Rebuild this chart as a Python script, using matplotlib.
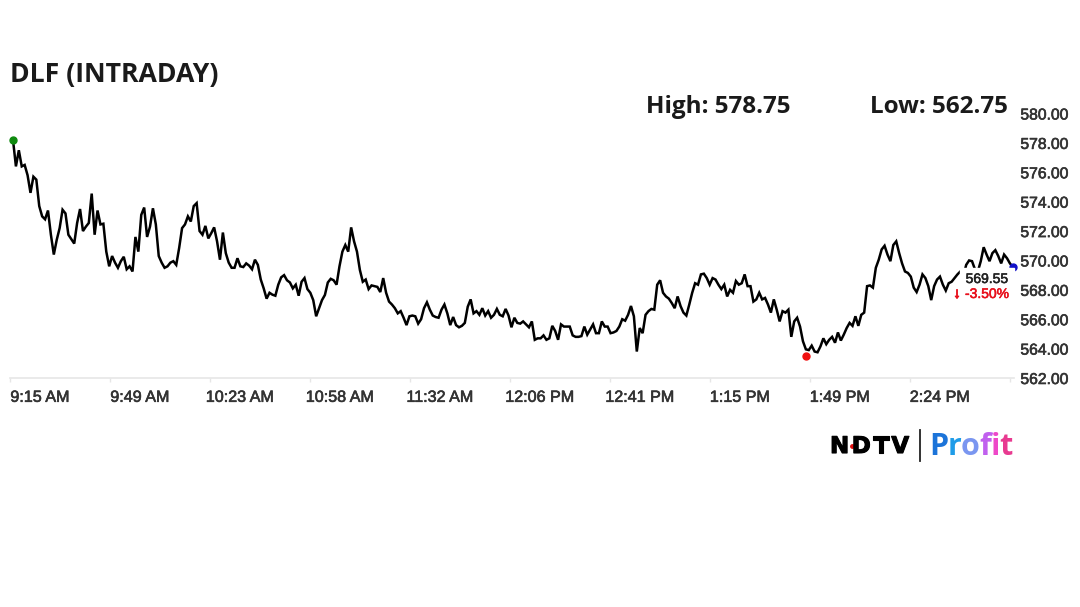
import matplotlib
matplotlib.use('Agg')
import matplotlib.pyplot as plt
import matplotlib.patheffects as pe
from matplotlib.patches import Rectangle
from matplotlib.transforms import ScaledTranslation
import numpy as np

# one close per minute
prices = [
    578.2, 576.4, 577.5, 576.4, 576.5, 575.8, 574.6, 575.7, 575.5, 573.7,
    573.0, 572.8, 573.4, 571.75, 570.4, 571.4, 572.2, 573.45, 573.2, 571.75,
    571.45, 571.15, 572.55, 573.5, 572.0, 572.3, 572.55, 574.55, 571.75, 573.4,
    572.45, 572.5, 570.6, 569.6, 570.3, 569.85, 569.5, 569.95, 570.25, 569.4,
    569.6, 569.25, 571.6, 570.6, 573.1, 573.6, 571.6, 572.3, 573.55, 572.45,
    570.3, 569.85, 569.5, 569.6, 569.85, 569.95, 569.7, 570.85, 572.2, 572.45,
    573.0, 572.65, 573.7, 573.9, 572.0, 571.75, 572.35, 571.5, 571.85, 572.25,
    571.3, 570.05, 571.9, 570.5, 569.85, 569.5, 569.5, 570.15, 569.6, 569.55,
    569.8, 569.65, 569.4, 570.05, 569.7, 568.7, 568.1, 567.4, 567.8, 567.67,
    567.6, 568.35, 568.85, 569.0, 568.65, 568.5, 568.1, 568.35, 567.6, 568.55,
    568.8, 568.05, 567.8, 567.3, 566.2, 566.75, 567.3, 567.65, 568.5, 568.75,
    568.65, 568.35, 569.6, 570.6, 571.05, 570.6, 572.25, 571.3, 570.6, 569.35,
    568.55, 568.7, 568.05, 568.3, 568.25, 568.2, 567.85, 568.8, 567.8, 567.2,
    567.0, 566.75, 566.4, 566.55, 566.1, 565.6, 566.2, 566.25, 566.2, 565.7,
    566.0, 566.75, 567.15, 566.65, 566.25, 566.15, 566.1, 566.65, 567.0, 566.4,
    565.6, 566.15, 565.6, 565.45, 565.55, 565.75, 566.85, 567.35, 566.4, 566.55,
    566.3, 566.75, 566.25, 566.55, 566.1, 566.3, 566.7, 566.3, 566.2, 566.7,
    566.25, 565.45, 566.1, 565.75, 565.7, 565.85, 565.65, 565.45, 565.85, 564.6,
    564.7, 564.7, 564.9, 564.6, 564.7, 565.55, 565.2, 564.6, 565.65, 565.5,
    565.5, 565.5, 564.9, 564.8, 564.8, 564.85, 565.5, 564.95, 565.3, 565.65,
    565.05, 565.05, 565.85, 565.5, 565.5, 565.05, 565.1, 565.2, 565.5, 566.0,
    565.9, 566.3, 566.9, 566.2, 563.8, 565.4, 565.05, 566.3, 566.55, 566.7,
    566.65, 568.35, 568.65, 567.8, 567.55, 567.4, 567.1, 566.75, 567.55, 566.9,
    566.45, 566.25, 567.0, 567.8, 568.45, 568.35, 569.05, 569.1, 568.8, 568.35,
    568.8, 568.7, 568.35, 568.05, 568.35, 567.55, 568.0, 567.8, 568.6, 568.35,
    568.45, 569.05, 568.25, 568.25, 567.2, 567.35, 567.8, 567.35, 567.45, 567.0,
    566.45, 567.35, 566.65, 565.85, 566.55, 566.45, 566.65, 564.8, 565.85, 566.1,
    565.5, 564.5, 563.95, 563.9, 564.2, 563.8, 563.75, 564.15, 564.7, 564.3,
    564.6, 564.8, 564.4, 565.1, 564.55, 564.95, 565.4, 565.75, 565.55, 566.2,
    565.55, 566.3, 566.45, 568.25, 568.3, 568.15, 569.5, 570.05, 570.75, 571.0,
    570.4, 569.95, 571.05, 571.3, 570.5, 569.8, 569.25, 569.15, 568.9, 568.15,
    567.85, 568.35, 569.05, 568.8, 568.25, 567.3, 568.25, 568.7, 568.9, 568.35,
    567.95, 568.45, 568.55, 568.8, 569.05, 569.25, 568.9, 569.7, 570.0, 569.95,
    569.4, 569.25, 569.95, 570.9, 570.4, 569.95, 570.5, 570.7, 570.3, 569.8,
    570.4, 570.15, 569.8, 569.55,
]
low_minute = 272
low_price = 563.5

time_labels = ['9:15 AM', '9:49 AM', '10:23 AM', '10:58 AM', '11:32 AM', '12:06 PM',
               '12:41 PM', '1:15 PM', '1:49 PM', '2:24 PM', '']
y_ticks = [562, 564, 566, 568, 570, 572, 574, 576, 578, 580]
title = 'DLF (INTRADAY)'
high_text = 'High: 578.75'
low_text = 'Low: 562.75'
last_text = '569.55'
change_text = '-3.50%'
ndtv_letters = ['N', 'D', 'T', 'V']
brand_letters = ['P', 'r', 'o', 'f', 'i', 't']
brand_colors = ['#1c74d9', '#1f9ce8', '#7a96f0', '#c060ee', '#ee48c8', '#e83a90']

W, H = 1080, 607
plt.rcParams['font.family'] = ['Liberation Sans', 'DejaVu Sans']


def fx(px):
    return px / W


def fy(py):
    return 1 - py / H


fig = plt.figure(figsize=(W / 100, H / 100), dpi=100)
ax = fig.add_axes([fx(10), fy(378), fx(1014) - fx(10), fy(113.5) - fy(378)])

minutes = np.arange(len(prices))
ax.plot(minutes, prices, color='black', lw=1.8, zorder=3, solid_joinstyle='miter')
ax.plot(minutes[0], prices[0], 'o', color='#0f8a0f', ms=5, clip_on=False, zorder=4)
ax.plot(low_minute, low_price, 'o', color='#f01010', ms=5, clip_on=False, zorder=4)
ax.plot(minutes[-1], prices[-1], 'o', color='#1010c8', ms=5, clip_on=False, zorder=4)

ax.set_xlim(-1.03, 343.4)
ax.set_ylim(562, 580)
for s in ['top', 'left', 'right']:
    ax.spines[s].set_visible(False)
ax.spines['bottom'].set_color('#e6e6e6')
ax.spines['bottom'].set_linewidth(1.2)

heavier = [pe.withStroke(linewidth=0.45, foreground='#333333')]

ax.set_xticks(-1.03 + 34.305 * np.arange(len(time_labels)))
ax.set_xticklabels(time_labels, fontsize=11.6, color='#333333', path_effects=heavier)
ax.tick_params(axis='x', length=3, width=1, color='#e6e6e6', pad=5.5)
for lab in ax.get_xticklabels():
    lab.set_transform(lab.get_transform() + ScaledTranslation(0.30, 0, fig.dpi_scale_trans))

ax.yaxis.tick_right()
ax.set_yticks(y_ticks)
ax.set_yticklabels(['%.2f' % v for v in y_ticks], fontsize=11.3, color='#333333', path_effects=heavier)
ax.tick_params(axis='y', length=0, pad=4.6)

# white label box sits over the end of the line
ax.add_patch(Rectangle((fx(960), fy(303)), fx(1014) - fx(960), fy(267.5) - fy(303),
                       transform=fig.transFigure, color='white', clip_on=False, zorder=5))
fig.text(fx(1008), fy(279), last_text, ha='right', va='center', fontsize=10, color='#222222', zorder=6,
         path_effects=[pe.withStroke(linewidth=0.4, foreground='#222222')])
fig.text(fx(1009), fy(294), change_text, ha='right', va='center', fontsize=10, color='#e8101c', zorder=6,
         path_effects=[pe.withStroke(linewidth=0.4, foreground='#e8101c')])
fig.text(fx(957), fy(294), '↓', ha='center', va='center', fontsize=11, color='#e8101c',
         fontweight='bold', zorder=6, path_effects=[pe.withStroke(linewidth=0.6, foreground='#e8101c')])

head = ['Open Sans', 'DejaVu Sans']
fig.text(fx(10), fy(75), title, ha='left', va='center', fontsize=19.2, fontweight='bold',
         family=head, color='#1a1a1a')
fig.text(fx(646), fy(107), high_text, ha='left', va='center', fontsize=17.5, fontweight='bold',
         family=head, color='#1a1a1a')
fig.text(fx(1008), fy(107), low_text, ha='right', va='center', fontsize=17.5, fontweight='bold',
         family=head, color='#1a1a1a')

# logo
renderer = fig.canvas.get_renderer()
cur = 830
for letter in ndtv_letters:
    t = fig.text(fx(cur), fy(453), letter, ha='left', va='baseline', fontsize=16.5, fontweight='bold',
                 family=['DejaVu Sans'], color='black',
                 path_effects=[pe.withStroke(linewidth=0.8, foreground='black')])
    cur += t.get_window_extent(renderer).width + 2.5
fig.add_artist(plt.Line2D([fx(852)], [fy(445.5)], marker='o', ms=2.5, color='#e01010'))
fig.add_artist(plt.Line2D([fx(920), fx(920)], [fy(430), fy(461)], color='#222222', lw=1.3))
cur = 929
for letter, col in zip(brand_letters, brand_colors):
    t = fig.text(fx(cur), fy(455), letter, ha='left', va='baseline', fontsize=22, fontweight='bold',
                 family=['Open Sans', 'DejaVu Sans'], color=col)
    cur += t.get_window_extent(renderer).width - 0.5

fig.savefig('out.png', dpi=100)
